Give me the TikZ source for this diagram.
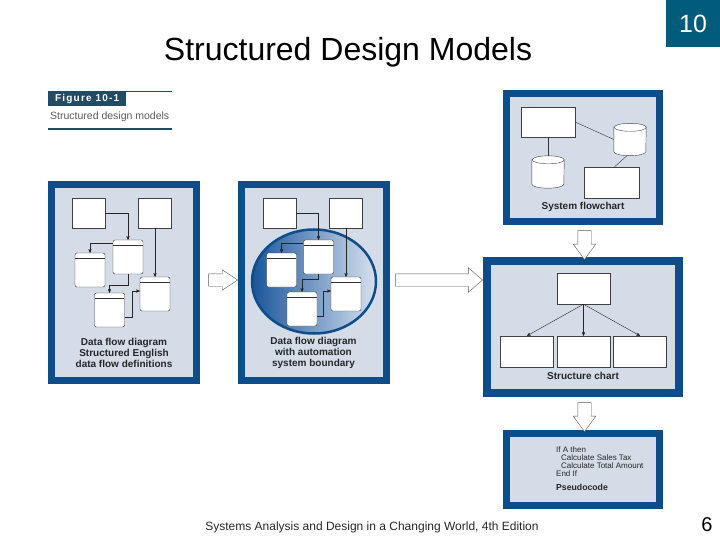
\documentclass[tikz,border=0pt]{standalone}
\usepackage{fontspec}
\setmainfont{Liberation Sans}
\newfontfamily\spacedfont[LetterSpace=12]{Liberation Sans}
\usepackage{tikz}
\usetikzlibrary{arrows,shapes.geometric,shapes.arrows,positioning}
\definecolor{frameblue}{RGB}{14,76,138}
\definecolor{panelfill}{RGB}{212,220,231}
\definecolor{tealbox}{RGB}{0,92,122}
\definecolor{figbox}{RGB}{35,75,100}
\definecolor{deepblue}{RGB}{25,85,155}
\definecolor{paleblue}{RGB}{215,225,238}
\tikzset{
	x=1pt, y=-1pt, % pixel grid, y grows downwards
	>=stealth', % small bold heads
	panel/.style={draw=frameblue, line width=7pt, fill=panelfill, inner sep=0pt},
	box/.style={draw=black!75, fill=white, thin, inner sep=0pt, minimum width=33pt, minimum height=30pt},
	proc/.style={draw=black!80, fill=white, thin, rounded corners=2pt, inner sep=0pt,
		minimum width=30pt, minimum height=34pt,
		path picture={\draw ([yshift=-5pt]path picture bounding box.north west) -- ([yshift=-5pt]path picture bounding box.north east);}},
	flow/.style={->, thin, black!85},
	link/.style={thin, black!80},
	caption/.style={font=\fontsize{10}{11}\selectfont\bfseries, align=center, text=black!85},
	bigarrow/.style={single arrow, draw=gray!70!black, fill=white, thin, inner sep=6pt},
}
% data store drawn as a drum round a named node
\newcommand{\dbstore}[3]{%
  \node[minimum width=32pt, minimum height=32pt, inner sep=0pt] (#1) at (#2,#3) {};
  \draw[black!75, fill=white, thin] ([yshift=-4pt]#1.north west) -- ([yshift=4pt]#1.south west)
     arc[start angle=180, end angle=360, x radius=16pt, y radius=4pt]
     -- ([yshift=-4pt]#1.north east)
     arc[start angle=0, end angle=180, x radius=16pt, y radius=4pt] -- cycle;
  \draw[black!75, thin] ([yshift=-4pt]#1.north east) arc[start angle=0, end angle=-180, x radius=16pt, y radius=4pt];
}

\begin{document}
\begin{tikzpicture}
      \useasboundingbox (0,0) rectangle (720,540);

      % heading
      \node[font=\fontsize{32}{38}\selectfont] (title) at (348,52) {Structured Design Models};
      \node[fill=tealbox, minimum width=54pt, minimum height=47pt, inner sep=0pt, text=white,
            font=\fontsize{25}{30}\selectfont] (chapter) at (693,23.5) {10};

      % figure tag
      \draw[figbox, thin] (48,91) -- (172,91);
      \node[fill=figbox, text=white, anchor=north west, minimum width=78pt, minimum height=15pt, inner sep=0pt,
            font=\spacedfont\fontsize{10}{12}\selectfont\bfseries] (fig) at (48,91) {Figure 10-1};
      \node[anchor=west, inner sep=0pt, text=black!65, font=\fontsize{10.5}{12}\selectfont] (figtext) at (50,117) {Structured design models};
      \draw[figbox, line width=1.5pt] (48,129) -- (172,129);

      % panel 1
      \node[panel, minimum width=145pt, minimum height=196pt] (pan1) at (124,282.5) {};
      \node[box] (ext1) at (88.5,213) {};
      \node[box] (ext2) at (155,213) {};
      \node[proc] (p1) at (128,257) {};
      \node[proc] (p2) at (90,270) {};
      \node[proc] (p3) at (155,294) {};
      \node[proc] (p4) at (109.5,310) {};
      \draw[flow] (ext1.east) -| (p1.north);
      \draw[flow] ([yshift=-3pt]p1.north west) -| (p2.north);
      \draw[flow] (ext2.south) -- (p3.north);
      \draw[flow] (p1.south) -- ++(0,11) -| (p4.north);
      \draw[flow] ([yshift=-7pt]p4.east) -- ++(7,0) |- ([yshift=3pt]p3.west);
      \node[caption] (cap1) at (124,353) {Data flow diagram\\Structured English\\data flow definitions};

      % panel 2
      \node[panel, minimum width=145pt, minimum height=196pt] (pan2) at (313.5,282.5) {};
      \node[ellipse, draw=frameblue, line width=2.5pt, left color=deepblue, right color=paleblue,
            minimum width=124pt, minimum height=104pt] (bound) at (314,281.5) {};
      \node[box] (ext3) at (279.5,213) {};
      \node[box] (ext4) at (346,213) {};
      \node[proc] (p5) at (318.5,257) {};
      \node[proc] (p6) at (281.5,270) {};
      \node[proc] (p7) at (346,294) {};
      \node[proc] (p8) at (302,309) {};
      \draw[flow] (ext3.east) -| (p5.north);
      \draw[flow] ([yshift=-3pt]p5.north west) -| (p6.north);
      \draw[flow] (ext4.south) -- (p7.north);
      \draw[flow] (p5.south) -- ++(0,5) -| (p8.north);
      \draw[flow] ([yshift=-7pt]p8.east) -- ++(6,0) |- ([yshift=3pt]p7.west);
      \node[caption] (cap2) at (313.5,353) {Data flow diagram\\with automation\\system boundary};

      % panel 3
      \node[panel, minimum width=153pt, minimum height=128pt] (pan3) at (583,157.5) {};
      \node[box, minimum width=54pt] (sf1) at (548,122) {};
      \dbstore{db1}{548}{172}
      \dbstore{db2}{630}{139.5}
      \node[box, minimum width=55pt, minimum height=31pt] (sf2) at (611.5,182.5) {};
      \draw[link] (sf1.south) -- (db1.north);
      \draw[link] (sf1.east) -- (db2.west);
      \draw[link] ([xshift=-3pt]db2.south) -- ([xshift=3pt]sf2.north);
      \node[caption] (cap3) at (583,207) {System flowchart};

      % panel 4
      \node[panel, line width=8pt, minimum width=192pt, minimum height=132pt] (pan4) at (583,327) {};
      \node[box, minimum width=53pt, minimum height=31pt] (sc0) at (583.5,288.5) {};
      \node[box, minimum width=53pt, minimum height=31pt] (sc1) at (527,351.5) {};
      \node[box, minimum width=53pt, minimum height=31pt] (sc2) at (583.5,351.5) {};
      \node[box, minimum width=53pt, minimum height=31pt] (sc3) at (640,351.5) {};
      \draw[flow] (sc0.south) -- (sc1.north);
      \draw[flow] (sc0.south) -- (sc2.north);
      \draw[flow] (sc0.south) -- (sc3.north);
      \node[caption] (cap4) at (583,376) {Structure chart};

      % panel 5
      \node[panel, minimum width=153pt, minimum height=72pt] (pan5) at (583,469.5) {};
      \node[anchor=north west, align=left, inner sep=0pt, text=black!85,
            font=\fontsize{8}{7.9}\selectfont] (code) at (556,446.5)
            {If A then\\\hspace{5pt}Calculate Sales Tax\\\hspace{5pt}Calculate Total Amount\\End If};
      \node[caption, font=\fontsize{8.7}{10}\selectfont\bfseries] (cap5) at (582,487) {Pseudocode};

      % block arrows between the models
      \node[bigarrow, minimum height=29pt, single arrow head extend=4pt, single arrow tip angle=67] (go1) at (218.5,280) {};
      \node[bigarrow, minimum height=87pt, single arrow head extend=6pt, single arrow tip angle=81] (go2) at (435.5,280) {};
      \node[bigarrow, shape border rotate=270, inner sep=6.5pt, minimum height=29pt, single arrow head extend=4.5pt,
            single arrow tip angle=72] (go3) at (584.5,240.5) {};
      \node[bigarrow, shape border rotate=270, inner sep=6.5pt, minimum height=29pt, single arrow head extend=4.5pt,
            single arrow tip angle=72] (go4) at (584.5,412.5) {};

      % footer
      \node[font=\fontsize{12}{14}\selectfont, text=black!85] (foot) at (372,527) {Systems Analysis and Design in a Changing World, 4th Edition};
      \node[font=\fontsize{20}{24}\selectfont] (page) at (707,525) {6};
\end{tikzpicture}
\end{document}
